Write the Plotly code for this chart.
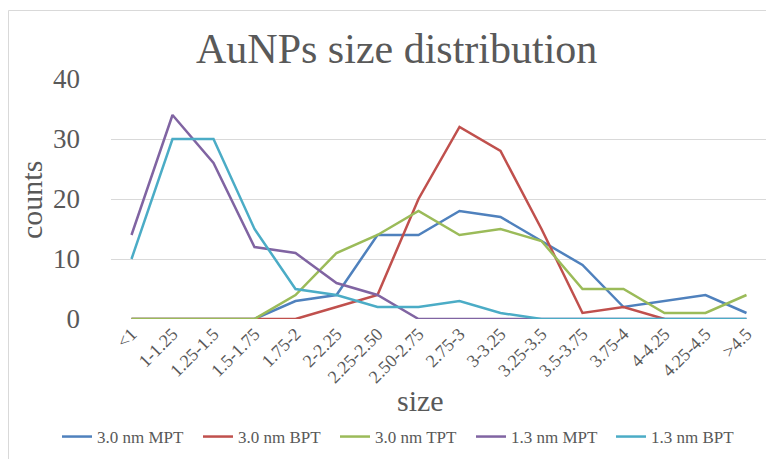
import plotly.graph_objects as go

categories = ["<1", "1-1.25", "1.25-1.5", "1.5-1.75", "1.75-2", "2-2.25", "2.25-2.50",
              "2.50-2.75", "2.75-3", "3-3.25", "3.25-3.5", "3.5-3.75", "3.75-4",
              "4-4.25", "4.25-4.5", ">4.5"]
mpt_30 = [0, 0, 0, 0, 3, 4, 14, 14, 18, 17, 13, 9, 2, 3, 4, 1]
bpt_30 = [0, 0, 0, 0, 0, 2, 4, 20, 32, 28, 15, 1, 2, 0, None, None]
tpt_30 = [0, 0, 0, 0, 4, 11, 14, 18, 14, 15, 13, 5, 5, 1, 1, 4]
mpt_13 = [14, 34, 26, 12, 11, 6, 4, 0, 0, 0, 0, 0, 0, 0, 0, 0]
bpt_13 = [10, 30, 30, 15, 5, 4, 2, 2, 3, 1, 0, 0, 0, 0, 0, 0]
y_ticks = [0, 10, 20, 30, 40]

series = [
    ("3.0 nm MPT", mpt_30, "#4F81BD"),
    ("3.0 nm BPT", bpt_30, "#C0504D"),
    ("3.0 nm TPT", tpt_30, "#9BBB59"),
    ("1.3 nm MPT", mpt_13, "#8064A2"),
    ("1.3 nm BPT", bpt_13, "#4BACC6"),
]

FONT = "Liberation Serif"
GRAY = "#595959"

OFF = 8  # page body margin
W, H = 774 - OFF, 459 - OFF
# plot area in page pixels: x 111..767, y 79..319
L, R, T, B = 111 - OFF, 774 - 767, 79 - OFF, 459 - 319
pw, ph = W - L - R, H - T - B

def px_x(x):
    return (x - OFF - L) / pw

def px_y(y):
    return (H - B - (y - OFF)) / ph

legend_names = ["legend", "legend2", "legend3", "legend4", "legend5"]
legend_line_starts = [63, 204, 341, 477, 617]  # page px, where each legend swatch begins

fig = go.Figure()
for (name, vals, col), lg in zip(series, legend_names):
    fig.add_trace(go.Scatter(x=categories, y=vals, name=name, mode="lines",
                             line=dict(color=col, width=2.5), legend=lg))

legend_layouts = {}
for lg, xs in zip(legend_names, legend_line_starts):
    legend_layouts[lg] = dict(
        orientation="h", xref="container", yref="container",
        x=(xs - OFF - 6) / W, xanchor="left", y=1 - (437 - OFF) / H, yanchor="middle",
        font=dict(size=17, family=FONT, color=GRAY), bgcolor="rgba(0,0,0,0)",
        itemwidth=30,
    )

fig.update_layout(
    width=W, height=H,
    margin=dict(l=L, r=R, t=T, b=B, autoexpand=False),
    plot_bgcolor="white", paper_bgcolor="white",
    font=dict(family=FONT, color=GRAY),
    showlegend=True,
    xaxis=dict(type="category", showgrid=False, showline=False, zeroline=False,
               automargin=False,
               tickangle=-45, tickfont=dict(size=18, family=FONT, color=GRAY),
               ticks="", range=[-0.5, len(categories) - 0.5]),
    yaxis=dict(range=[0, 40], tickvals=y_ticks, showgrid=True, gridcolor="#d9d9d9",
               automargin=False,
               gridwidth=1, zeroline=False, showline=False, ticks="",
               tickfont=dict(size=27, family=FONT, color=GRAY), ticklabelstandoff=30),
    annotations=[
        dict(text="AuNPs size distribution", x=px_x(396), y=px_y(49), xref="paper", yref="paper",
             xanchor="center", yanchor="middle", showarrow=False,
             font=dict(size=42, family=FONT, color=GRAY)),
        dict(text="counts", x=px_x(31), y=px_y(200), xref="paper", yref="paper",
             xanchor="center", yanchor="middle", showarrow=False, textangle=-90,
             font=dict(size=30, family=FONT, color=GRAY)),
        dict(text="size", x=px_x(420), y=px_y(400), xref="paper", yref="paper",
             xanchor="center", yanchor="middle", showarrow=False,
             font=dict(size=30, family=FONT, color=GRAY)),
    ],
    shapes=[
        dict(type="rect", xref="paper", yref="paper",
             x0=px_x(8.5), x1=px_x(790), y0=px_y(10.5), y1=px_y(480),
             line=dict(color="#d9d9d9", width=1), layer="below"),
    ],
    **legend_layouts,
)

fig.write_html("out.html")
